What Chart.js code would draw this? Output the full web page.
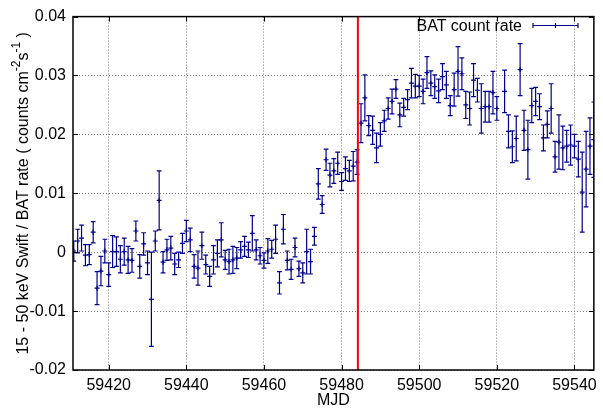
<!DOCTYPE html>
<html lang="en">
<head>
<meta charset="UTF-8">
<title>Swift/BAT light curve</title>
<script src="https://cdn.jsdelivr.net/npm/chart.js"></script>
<style>
  body { margin: 0; background: #ffffff; }
  #wrap { width: 603px; height: 412px; }
</style>
</head>
<body>
<div id="wrap"><canvas id="lc" width="603" height="412"></canvas></div>
<script>
// Daily BAT rates (15-50 keV), counts cm^-2 s^-1
const mjd = [
  59411, 59412, 59413, 59414, 59415, 59416, 59417, 59418, 59419, 59420,
  59421, 59422, 59423, 59424, 59425, 59426, 59427, 59428, 59429, 59430,
  59431, 59432, 59433, 59434, 59435, 59436, 59437, 59438, 59439, 59440,
  59441, 59442, 59443, 59444, 59445, 59446, 59447, 59448, 59449, 59450,
  59451, 59452, 59453, 59454, 59455, 59456, 59457, 59458, 59459, 59460,
  59461, 59462, 59463, 59464, 59465, 59466, 59467, 59468, 59469, 59470,
  59471, 59472, 59473, 59474, 59475, 59476, 59477, 59478, 59479, 59480,
  59481, 59482, 59483, 59484, 59485, 59486, 59487, 59488, 59489, 59490,
  59491, 59492, 59493, 59494, 59495, 59496, 59497, 59498, 59499, 59500,
  59501, 59502, 59503, 59504, 59505, 59506, 59507, 59508, 59509, 59510,
  59511, 59512, 59513, 59514, 59515, 59516, 59517, 59518, 59519, 59520,
  59522, 59523, 59524, 59525, 59526, 59527, 59528, 59529, 59530, 59531,
  59532, 59533, 59534, 59535, 59536, 59537, 59538, 59539, 59540, 59541,
  59542, 59543, 59544, 59545
];
const rate = [
  0.0002, 0.0019, 0.0024, -0.0005, -0.0004, 0.0034, -0.0061, -0.0032, 0.0002, -0.0038,
  0.0001, 0.0001, -0.0012, 0.0001, -0.0013, -0.0014, 0.0036, -0.0024, 0.0014, -0.0018,
  -0.0080, 0.0019, 0.0088, -0.0017, 0.0004, 0.0007, -0.0020, -0.0013, 0.0015, 0.0036,
  0.0021, -0.0024, -0.0027, 0.0011, -0.0021, -0.0041, -0.0013, -0.0002, 0.0021, -0.0013,
  -0.0016, -0.0013, -0.0010, 0.0004, 0.0010, 0.0004, 0.0032, 0.0004, -0.0006, -0.0014,
  0.0002, 0.0005, 0.0022, -0.0052, 0.0039, -0.0014, -0.0029, 0.0008, -0.0028, -0.0035,
  0.0001, -0.0016, 0.0027, 0.0116, 0.0081, 0.0157, 0.0131, 0.0138, 0.0151, 0.0120,
  0.0142, 0.0138, 0.0146, 0.0153, 0.0219, 0.0262, 0.0215, 0.0207, 0.0177, 0.0200,
  0.0223, 0.0244, 0.0256, 0.0277, 0.0233, 0.0246, 0.0259, 0.0287, 0.0282, 0.0282,
  0.0273, 0.0305, 0.0287, 0.0281, 0.0274, 0.0298, 0.0284, 0.0249, 0.0276, 0.0307,
  0.0303, 0.0250, 0.0244, 0.0292, 0.0275, 0.0244, 0.0247, 0.0247, 0.0271, 0.0244,
  0.0273, 0.0205, 0.0179, 0.0193, 0.0310, 0.0207, 0.0174, 0.0249, 0.0256, 0.0247,
  0.0194, 0.0217, 0.0244, 0.0162, 0.0187, 0.0177, 0.0180, 0.0182, 0.0180, 0.0158,
  0.0102, 0.0141, 0.0180, 0.0191
];
const rateErr = [
  0.0017, 0.0020, 0.0022, 0.0018, 0.0017, 0.0018, 0.0028, 0.0025, 0.0020, 0.0020,
  0.0027, 0.0025, 0.0023, 0.0023, 0.0023, 0.0020, 0.0017, 0.0020, 0.0019, 0.0020,
  0.0080, 0.0017, 0.0050, 0.0018, 0.0018, 0.0020, 0.0018, 0.0013, 0.0017, 0.0018,
  0.0020, 0.0020, 0.0029, 0.0023, 0.0016, 0.0017, 0.0024, 0.0023, 0.0029, 0.0016,
  0.0021, 0.0023, 0.0018, 0.0014, 0.0017, 0.0013, 0.0030, 0.0017, 0.0014, 0.0013,
  0.0021, 0.0015, 0.0024, 0.0019, 0.0025, 0.0016, 0.0017, 0.0016, 0.0013, 0.0017,
  0.0038, 0.0021, 0.0015, 0.0026, 0.0015, 0.0018, 0.0020, 0.0021, 0.0019, 0.0015,
  0.0020, 0.0018, 0.0025, 0.0021, 0.0033, 0.0039, 0.0017, 0.0024, 0.0025, 0.0020,
  0.0018, 0.0018, 0.0021, 0.0016, 0.0020, 0.0015, 0.0017, 0.0025, 0.0020, 0.0018,
  0.0021, 0.0027, 0.0021, 0.0020, 0.0020, 0.0022, 0.0023, 0.0017, 0.0028, 0.0042,
  0.0027, 0.0023, 0.0028, 0.0028, 0.0020, 0.0042, 0.0026, 0.0026, 0.0036, 0.0020,
  0.0036, 0.0028, 0.0027, 0.0038, 0.0044, 0.0034, 0.0050, 0.0029, 0.0024, 0.0022,
  0.0022, 0.0023, 0.0042, 0.0026, 0.0046, 0.0037, 0.0027, 0.0034, 0.0020, 0.0030,
  0.0068, 0.0064, 0.0048, 0.0064
];

const xTicks = [59420, 59440, 59460, 59480, 59500, 59520, 59540];
const xTickLabels = ['59420', '59440', '59460', '59480', '59500', '59520', '59540'];
const yTicks = [-0.02, -0.01, 0, 0.01, 0.02, 0.03, 0.04];
const yTickLabels = ['-0.02', '-0.01', '0', '0.01', '0.02', '0.03', '0.04'];
const xRange = [59410.8, 59545];
const yRange = [-0.02, 0.04];
const markerMjd = [59484.2, 59484.2];   // vertical marker, drawn bottom to top

const seriesLabel = 'BAT count rate';
const yTitleParts = [
  ['15 - 50 keV Swift / BAT rate ( counts cm', false],
  ['-2', true],
  ['s', false],
  ['-1', true],
  [' )', false]
];

const FONT = '"Liberation Sans", Arial, Helvetica, sans-serif';
const barColor = '#00008b';
const gridColor = '#7a7a7a';
const capHalf = 2.4;

// vertical error bars with caps, under the points
const errorBars = {
  id: 'errorBars',
  beforeDatasetsDraw(chart) {
    const { ctx, chartArea, scales: { x, y } } = chart;
    ctx.save();
    ctx.beginPath();
    ctx.rect(chartArea.left, chartArea.top, chartArea.width, chartArea.height);
    ctx.clip();
    ctx.strokeStyle = barColor;
    ctx.lineWidth = 1.2;
    ctx.beginPath();
    mjd.forEach((t, i) => {
      const px = x.getPixelForValue(t);
      const top = y.getPixelForValue(rate[i] + rateErr[i]);
      const bot = y.getPixelForValue(rate[i] - rateErr[i]);
      ctx.moveTo(px, top); ctx.lineTo(px, bot);
      ctx.moveTo(px - capHalf, top); ctx.lineTo(px + capHalf, top);
      ctx.moveTo(px - capHalf, bot); ctx.lineTo(px + capHalf, bot);
    });
    ctx.stroke();
    ctx.restore();
  }
};

// box, inward ticks, key and the rotated y label with superscripts
const frame = {
  id: 'frame',
  afterDraw(chart) {
    const { ctx, chartArea: a, scales: { x, y } } = chart;
    ctx.save();
    ctx.strokeStyle = '#000';
    ctx.lineWidth = 1.5;
    ctx.strokeRect(a.left, a.top, a.width, a.height);

    ctx.lineWidth = 1;
    ctx.beginPath();
    xTicks.forEach(v => {
      const px = Math.round(x.getPixelForValue(v)) + 0.5;
      ctx.moveTo(px, a.bottom); ctx.lineTo(px, a.bottom - 5);
      ctx.moveTo(px, a.top); ctx.lineTo(px, a.top + 5);
    });
    yTicks.forEach(v => {
      const py = Math.round(y.getPixelForValue(v)) + 0.5;
      ctx.moveTo(a.left, py); ctx.lineTo(a.left + 5, py);
      ctx.moveTo(a.right, py); ctx.lineTo(a.right - 5, py);
    });
    ctx.stroke();

    // key
    const ky = 25.5;
    ctx.fillStyle = '#000';
    ctx.font = '16px ' + FONT;
    ctx.textAlign = 'right';
    ctx.textBaseline = 'middle';
    ctx.fillText(seriesLabel, 522, ky + 1);
    ctx.strokeStyle = barColor;
    ctx.lineWidth = 1.2;
    ctx.beginPath();
    ctx.moveTo(533, ky); ctx.lineTo(578, ky);
    ctx.moveTo(533, ky - capHalf); ctx.lineTo(533, ky + capHalf);
    ctx.moveTo(578, ky - capHalf); ctx.lineTo(578, ky + capHalf);
    ctx.moveTo(555.5, ky - 2.5); ctx.lineTo(555.5, ky + 2.5);
    ctx.stroke();

    // y axis title
    const mainFont = '16px ' + FONT;
    const supFont = '12px ' + FONT;
    let total = 0;
    yTitleParts.forEach(([s, sup]) => {
      ctx.font = sup ? supFont : mainFont;
      total += ctx.measureText(s).width;
    });
    ctx.translate(27.5, (a.top + a.bottom) / 2);
    ctx.rotate(-Math.PI / 2);
    ctx.textAlign = 'left';
    ctx.textBaseline = 'alphabetic';
    ctx.fillStyle = '#000';
    let cx = -total / 2;
    yTitleParts.forEach(([s, sup]) => {
      ctx.font = sup ? supFont : mainFont;
      ctx.fillText(s, cx, sup ? -8 : 0);
      cx += ctx.measureText(s).width;
    });
    ctx.restore();
  }
};

new Chart(document.getElementById('lc'), {
  type: 'scatter',
  data: {
    datasets: [
      {
        label: 'marker',
        type: 'line',
        data: markerMjd.map((t, i) => ({ x: t, y: yRange[i] })),
        borderColor: '#ff0000',
        borderWidth: 2,
        pointRadius: 0,
        fill: false
      },
      {
        label: seriesLabel,
        data: mjd.map((t, i) => ({ x: t, y: rate[i] })),
        pointStyle: 'cross',
        pointRadius: 2.5,
        borderColor: barColor,
        backgroundColor: barColor,
        borderWidth: 1.2
      }
    ]
  },
  options: {
    responsive: false,
    animation: false,
    devicePixelRatio: 1,
    layout: { padding: { left: 0, right: 8, top: 12, bottom: 0 } },
    plugins: { legend: { display: false }, tooltip: { enabled: false } },
    scales: {
      x: {
        type: 'linear',
        min: xRange[0],
        max: xRange[1],
        afterBuildTicks: s => { s.ticks = xTicks.map(v => ({ value: v })); },
        afterFit: s => { s.height = 42; },
        grid: { color: gridColor, lineWidth: 1, drawTicks: false },
        border: { display: false, dash: [1, 2] },
        ticks: {
          autoSkip: false,
          maxRotation: 0,
          padding: 6,
          color: '#000',
          font: { family: FONT, size: 16 },
          callback: v => xTickLabels[xTicks.indexOf(v)]
        },
        title: {
          display: true,
          text: 'MJD',
          color: '#000',
          font: { family: FONT, size: 16 },
          padding: { top: 0, bottom: 2 }
        }
      },
      y: {
        type: 'linear',
        min: yRange[0],
        max: yRange[1],
        afterBuildTicks: s => { s.ticks = yTicks.map(v => ({ value: v })); },
        afterFit: s => { s.width = 73; },
        grid: { color: gridColor, lineWidth: 1, drawTicks: false },
        border: { display: false, dash: [1, 2] },
        ticks: {
          padding: 7,
          color: '#000',
          font: { family: FONT, size: 16 },
          callback: v => yTickLabels[yTicks.indexOf(v)]
        }
      }
    }
  },
  plugins: [errorBars, frame]
});
</script>
</body>
</html>
